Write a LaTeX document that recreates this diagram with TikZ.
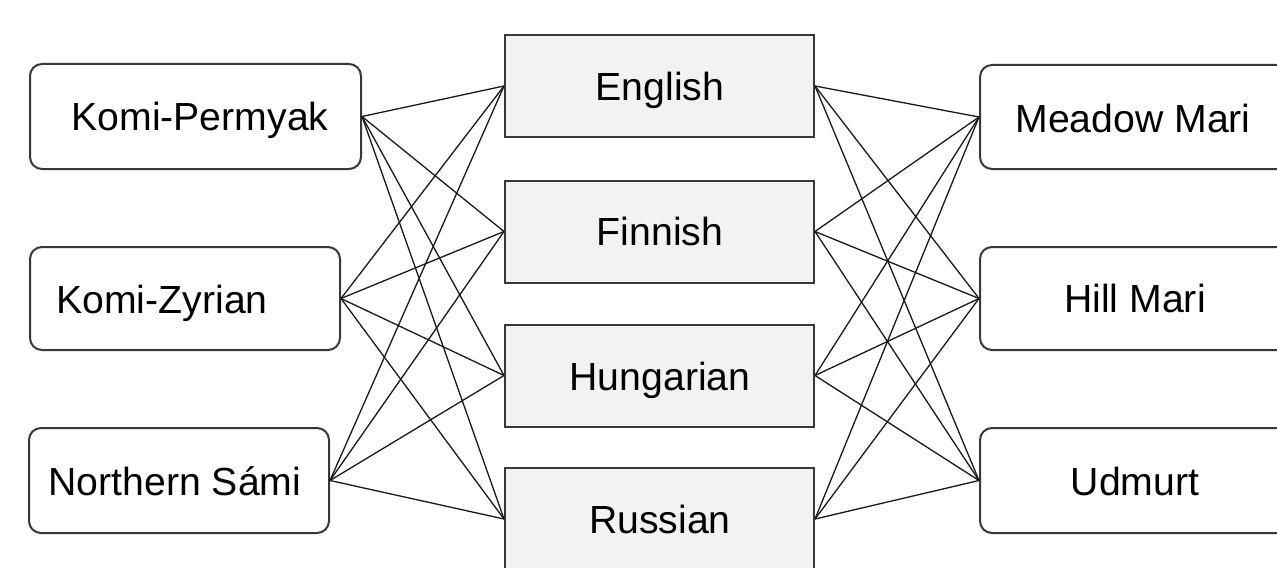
\documentclass[tikz,border=0pt]{standalone}
\usepackage{fontspec}
\setmainfont{Liberation Sans}
\begin{document}
\begin{tikzpicture}[x=0.5pt,y=-0.5pt,
  langbox/.style={draw=black!78, line width=1pt, rounded corners=6pt, fill=white, inner sep=0pt},
  pivotbox/.style={draw=black!78, line width=1pt, fill=black!5, inner sep=0pt,
    minimum width=154.5pt, minimum height=51pt},
  langtext/.style={anchor=base, inner sep=0pt, font=\fontsize{19.6}{23}\selectfont},
  link/.style={line width=0.65pt, black!90}]
\useasboundingbox (0,0) rectangle (1277,567);
\clip (0,0) rectangle (1277,567);

% source languages (left)
\node[langbox, minimum width=165.5pt, minimum height=52.5pt] (kp) at (195.5,116.5) {};
\node[langbox, minimum width=155pt, minimum height=51.5pt] (kz) at (185,298.5) {};
\node[langbox, minimum width=150pt, minimum height=52.5pt] (ns) at (179,480.5) {};

% pivot languages (middle)
\node[pivotbox] (en) at (659.5,86) {};
\node[pivotbox] (fi) at (659.5,231.5) {};
\node[pivotbox] (hu) at (659.5,375.5) {};
\node[pivotbox] (ru) at (659.5,519) {};

% target languages (right)
\node[langbox, minimum width=155pt, minimum height=52pt] (mm) at (1135,117) {};
\node[langbox, minimum width=155pt, minimum height=51.5pt] (hm) at (1135,298.5) {};
\node[langbox, minimum width=155pt, minimum height=52.5pt] (ud) at (1135,480.5) {};

% connectors
\foreach \l in {kp,kz,ns}
  \foreach \m in {en,fi,hu,ru}
    \draw[link] (\l.east) -- (\m.west);
\foreach \m in {en,fi,hu,ru}
  \foreach \r in {mm,hm,ud}
    \draw[link] (\m.east) -- (\r.west);

% labels
\node[langtext] (kpt) at (200,130) {Komi-Permyak};
\node[langtext] (kzt) at (162,313) {Komi-Zyrian};
\node[langtext] (nst) at (175,495) {Northern Sámi};
\node[langtext] (ent) at (660,100) {English};
\node[langtext] (fit) at (660,245) {Finnish};
\node[langtext] (hut) at (660,390) {Hungarian};
\node[langtext] (rut) at (660,533) {Russian};
\node[langtext] (mmt) at (1133,132) {Meadow Mari};
\node[langtext] (hmt) at (1135,312) {Hill Mari};
\node[langtext] (udt) at (1135,495) {Udmurt};
\end{tikzpicture}
\end{document}
